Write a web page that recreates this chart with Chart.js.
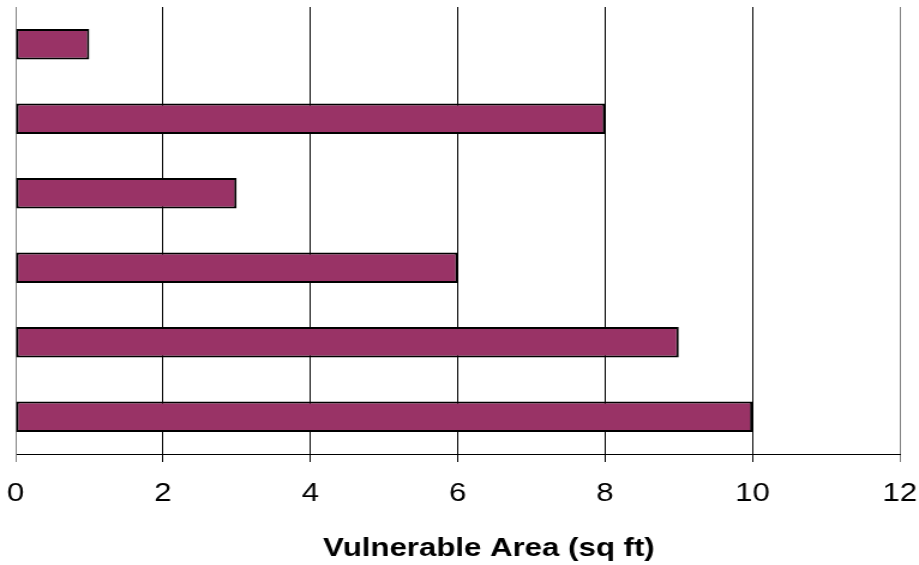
<!DOCTYPE html>
<html>
<head>
<meta charset="utf-8">
<script src="https://cdn.jsdelivr.net/npm/chart.js@4/dist/chart.umd.min.js"></script>
<style>
  html, body { margin: 0; padding: 0; background: #fff; overflow: hidden; }
  /* Chart is drawn in a narrower box, then widened so the Arial text gets its wide look */
  #wrap { position: absolute; left: 0; top: 0; width: 766px; height: 565px;
          transform: scaleX(1.1997); transform-origin: 0 0; }
</style>
</head>
<body>
<div id="wrap"><canvas id="chart"></canvas></div>
<script>
// Bars, top to bottom
const categories = ['A', 'B', 'C', 'D', 'E', 'F'];
const areaValues = [1, 8, 3, 6, 9, 10];
const xTicks = [0, 2, 4, 6, 8, 10, 12];
const axisTitle = 'Vulnerable Area (sq ft)';

const FONT = '"Liberation Sans", Arial, Helvetica, sans-serif';
const edgeColor = v => (v === xTicks[0] || v === xTicks[xTicks.length - 1]) ? '#808080' : '#000000';

// Axis title sits a little right of the plot centre, below the tick labels
const axisTitlePlugin = {
  id: 'axisTitle',
  afterDraw(chart) {
    const { ctx, chartArea } = chart;
    const x = chart.scales.x;
    ctx.save();
    ctx.font = 'bold 26px ' + FONT;
    ctx.fillStyle = '#000';
    ctx.textAlign = 'center';
    ctx.textBaseline = 'middle';
    ctx.fillText(axisTitle, (chartArea.left + chartArea.right) / 2 + 26, x.bottom - 16.6);
    ctx.restore();
  }
};

new Chart(document.getElementById('chart'), {
  type: 'bar',
  data: {
    labels: categories,
    datasets: [{
      data: areaValues,
      backgroundColor: '#993366',
      borderColor: '#000000',
      borderWidth: 2,
      borderSkipped: false,
      categoryPercentage: 1,
      barPercentage: 0.41
    }]
  },
  plugins: [axisTitlePlugin],
  options: {
    indexAxis: 'y',
    responsive: true,
    maintainAspectRatio: false,
    animation: false,
    layout: { padding: { left: 13, right: 16, top: 7, bottom: 0 } },
    plugins: { legend: { display: false }, tooltip: { enabled: false } },
    scales: {
      x: {
        type: 'linear',
        position: 'bottom',
        min: xTicks[0],
        max: xTicks[xTicks.length - 1],
        afterBuildTicks: s => { s.ticks = xTicks.map(v => ({ value: v })); },
        afterFit: s => { s.height = 111; s.paddingLeft = 0; s.paddingRight = 0; },
        ticks: {
          color: '#000',
          font: { family: FONT, size: 26 },
          padding: 16,
          maxRotation: 0
        },
        grid: {
          color: c => edgeColor(c.tick ? c.tick.value : null),
          tickColor: c => edgeColor(c.tick ? c.tick.value : null),
          lineWidth: 1,
          tickLength: 8,
          drawOnChartArea: true
        },
        border: { display: true, color: '#000', width: 1 },
        title: { display: false }
      },
      y: {
        type: 'category',
        afterFit: s => { s.width = 0; s.paddingTop = 0; s.paddingBottom = 0; },
        ticks: { display: false },
        grid: { display: false },
        border: { display: true, color: '#808080', width: 1 }
      }
    }
  }
});
</script>
</body>
</html>
